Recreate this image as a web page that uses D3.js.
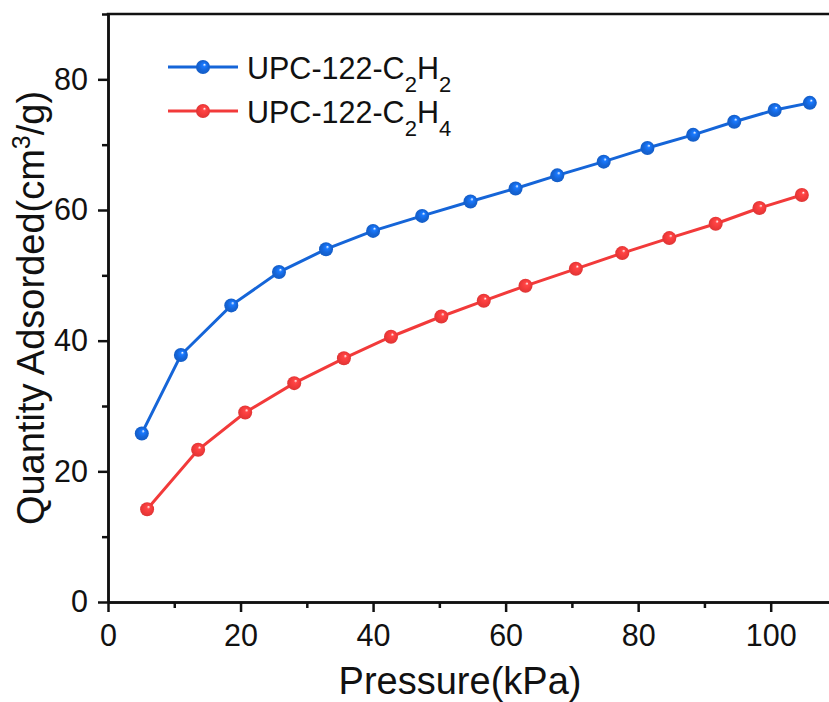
<!DOCTYPE html>
<html>
<head>
<meta charset="utf-8">
<script src="https://cdn.jsdelivr.net/npm/d3@7"></script>
<style>
  body { margin: 0; background: #fff; }
  text { font-family: Arial, "Liberation Sans", sans-serif; fill: #111; }
</style>
</head>
<body>
<div id="chart"></div>
<script>
// Dados
const pressureC2H2 = [5.1, 11.0, 18.6, 25.8, 32.9, 40.0, 47.4, 54.7, 61.5, 67.8, 74.8, 81.4, 88.3, 94.5, 100.6, 105.9];
const uptakeC2H2   = [25.8, 37.8, 45.4, 50.5, 54.0, 56.8, 59.1, 61.3, 63.3, 65.3, 67.4, 69.5, 71.5, 73.5, 75.3, 76.4];
const pressureC2H4 = [5.9, 13.6, 20.7, 28.1, 35.6, 42.7, 50.3, 56.7, 63.0, 70.6, 77.6, 84.7, 91.7, 98.3, 104.7];
const uptakeC2H4   = [14.2, 23.3, 29.0, 33.5, 37.3, 40.6, 43.7, 46.1, 48.4, 51.0, 53.4, 55.7, 57.9, 60.3, 62.3];
const xTicks = [0, 20, 40, 60, 80, 100];
const xMinor = [10, 30, 50, 70, 90, 110];
const yTicks = [0, 20, 40, 60, 80];
const yMinor = [10, 30, 50, 70, 90];

const series = [
  { name: "UPC-122-C", sub1: "2", mid: "H", sub2: "2", x: pressureC2H2, y: uptakeC2H2, color: "#1565d8", id: "gBlue" },
  { name: "UPC-122-C", sub1: "2", mid: "H", sub2: "4", x: pressureC2H4, y: uptakeC2H4, color: "#f23a3a", id: "gRed" }
];

// Configurações
const W = 829, H = 702;
const mLeft = 108, mTop = 14, mBottom = 602;

const svg = d3.select("#chart").append("svg")
  .attr("width", W).attr("height", H);

// Escalas
const x = d3.scaleLinear().domain([0, 110]).range([mLeft, mLeft + 110 * 6.627]);
const y = d3.scaleLinear().domain([0, 90]).range([mBottom, mTop]);

// Gradientes para os marcadores (efeito esfera)
const defs = svg.append("defs");
series.forEach(s => {
  const g = defs.append("radialGradient").attr("id", s.id)
    .attr("cx", "50%").attr("cy", "50%").attr("r", "55%")
    .attr("fx", "62%").attr("fy", "32%");
  g.append("stop").attr("offset", "0%").attr("stop-color", "#ffffff");
  g.append("stop").attr("offset", "22%").attr("stop-color", d3.color(s.color).brighter(0.5));
  g.append("stop").attr("offset", "60%").attr("stop-color", s.color);
  g.append("stop").attr("offset", "100%").attr("stop-color", d3.color(s.color).darker(0.3));
});

// Eixos
const axisStyle = g => {
  g.selectAll("path, line").attr("stroke", "#111").attr("stroke-width", 2.5);
  g.selectAll("text").style("font-size", "30.5px").attr("fill", "#111");
};

svg.append("g").attr("transform", `translate(0,${mBottom})`)
  .call(d3.axisBottom(x).tickValues(xTicks).tickSize(10).tickSizeOuter(0).tickPadding(12))
  .call(axisStyle);
svg.append("g").attr("transform", `translate(0,${mBottom})`)
  .call(d3.axisBottom(x).tickValues(xMinor).tickSize(6).tickSizeOuter(0).tickFormat(""))
  .call(axisStyle);

svg.append("g").attr("transform", `translate(${mLeft},0)`)
  .call(d3.axisLeft(y).tickValues(yTicks).tickSize(10).tickSizeOuter(0).tickPadding(10))
  .call(axisStyle);
svg.append("g").attr("transform", `translate(${mLeft},0)`)
  .call(d3.axisLeft(y).tickValues(yMinor).tickSize(6).tickSizeOuter(0).tickFormat(""))
  .call(axisStyle);

// Borda superior
svg.append("line")
  .attr("x1", x(0)).attr("x2", x(110))
  .attr("y1", y(90)).attr("y2", y(90))
  .attr("stroke", "#111").attr("stroke-width", 2.5).attr("stroke-linecap", "square");

// Títulos
svg.append("text")
  .attr("x", 460).attr("y", 694)
  .attr("text-anchor", "middle")
  .style("font-size", "38px")
  .text("Pressure(kPa)");

const yt = svg.append("text")
  .attr("transform", "translate(44,308) rotate(-90)")
  .attr("text-anchor", "middle")
  .style("font-size", "38px");
yt.append("tspan").text("Quantity Adsorded(cm");
yt.append("tspan").attr("baseline-shift", "super").style("font-size", "25px").text("3");
yt.append("tspan").text("/g)");

// Linhas e pontos
const line = d3.line().x(d => x(d[0])).y(d => y(d[1]));
series.forEach(s => {
  const pts = s.x.map((v, i) => [v, s.y[i]]);
  svg.append("path")
    .datum(pts)
    .attr("fill", "none")
    .attr("stroke", s.color)
    .attr("stroke-width", 3)
    .attr("d", line);
  svg.selectAll(null)
    .data(pts)
    .enter()
    .append("circle")
    .attr("cx", d => x(d[0]))
    .attr("cy", d => y(d[1]))
    .attr("r", 7)
    .attr("fill", `url(#${s.id})`);
});

// Legenda
series.forEach((s, i) => {
  const ly = 67 + i * 44;
  svg.append("line")
    .attr("x1", 168).attr("x2", 238).attr("y1", ly).attr("y2", ly)
    .attr("stroke", s.color).attr("stroke-width", 3);
  svg.append("circle")
    .attr("cx", 203).attr("cy", ly).attr("r", 7)
    .attr("fill", `url(#${s.id})`);
  const t = svg.append("text")
    .attr("x", 247).attr("y", ly + 12)
    .style("font-size", "30.5px");
  t.append("tspan").text(s.name);
  t.append("tspan").attr("baseline-shift", "sub").style("font-size", "22px").text(s.sub1);
  t.append("tspan").text(s.mid);
  t.append("tspan").attr("baseline-shift", "sub").style("font-size", "22px").text(s.sub2);
});
</script>
</body>
</html>
